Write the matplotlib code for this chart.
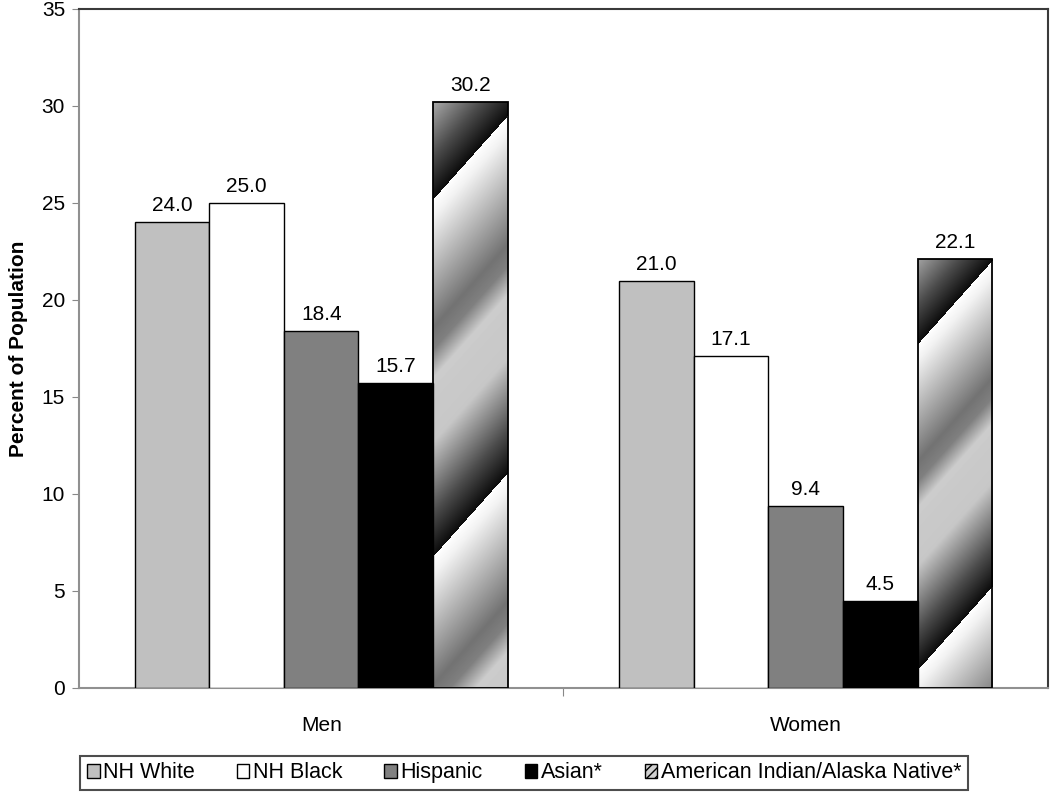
import numpy as np
import matplotlib.pyplot as plt
from matplotlib.patches import Patch

plt.rcParams['font.family'] = ['Liberation Sans', 'DejaVu Sans']

groups = ['Men', 'Women']
series = ['NH White', 'NH Black', 'Hispanic', 'Asian*', 'American Indian/Alaska Native*']
nh_white = [24.0, 21.0]
nh_black = [25.0, 17.1]
hispanic = [18.4, 9.4]
asian = [15.7, 4.5]
ai_an = [30.2, 22.1]

values = [nh_white, nh_black, hispanic, asian, ai_an]
colors = ['#c0c0c0', '#ffffff', '#808080', '#000000', None]

fig = plt.figure(figsize=(10.5, 7.95), dpi=100)
ax = fig.add_axes([0.0752, 0.1346, 0.9228, 0.8541])

index = np.arange(len(groups))
bar_width = 0.154
ax.set_xlim(-0.5, 1.5)
ax.set_ylim(0, 35)

# diagonal banded grey fill, profile along one period (0 = just past the sharp edge)
prof_t = [0.0, 0.05, 0.36, 0.42, 0.5, 0.68, 0.88, 1.0]
prof_v = [1.0, 0.95, 0.45, 0.5, 0.8, 0.78, 0.3, 0.05]


def gradient_bar(x0, h):
    (px0, py0), (px1, py1) = ax.transData.transform([(x0, 0), (x0 + bar_width, h)])
    nx, ny = int(round(px1 - px0)), int(round(py1 - py0))
    u = np.arange(nx)[None, :]
    v = np.arange(ny)[:, None]
    # the fill stretches a little with the bar's height
    period = 240 + 0.2 * ny
    offset = 50 + 0.08 * ny
    slope = 1.12
    phase = ((v + slope * u - offset) / period) % 1.0
    img = np.interp(phase, prof_t, prof_v)
    ax.imshow(img, cmap='gray', vmin=0, vmax=1, aspect='auto', origin='upper',
              extent=(x0, x0 + bar_width, 0, h), interpolation='bilinear', zorder=2)


for i, (vals, c) in enumerate(zip(values, colors)):
    pos = index - 2 * bar_width + i * bar_width
    if c is None:
        bars = ax.bar(pos, vals, bar_width, facecolor='none', edgecolor='black',
                      linewidth=1.3, zorder=3)
        for b in bars:
            gradient_bar(b.get_x(), b.get_height())
    else:
        bars = ax.bar(pos, vals, bar_width, color=c, edgecolor='black',
                      linewidth=1.0, zorder=3)
    for b, val in zip(bars, vals):
        ax.annotate('%.1f' % val, (b.get_x() + bar_width / 2, val),
                    xytext=(0, 5), textcoords='offset points',
                    ha='center', va='bottom', fontsize=15)

ax.set_xlim(-0.5, 1.5)
ax.set_ylim(0, 35)
ax.set_yticks(np.arange(0, 36, 5))
ax.tick_params(axis='y', labelsize=15, direction='out', length=5, color='#888888', pad=5)
ax.set_xticks([0.5])
ax.set_xticklabels([''])
ax.set_xticks(index, minor=True)
ax.set_xticklabels(groups, minor=True)
ax.tick_params(axis='x', which='major', direction='out', length=6, color='#888888')
ax.tick_params(axis='x', which='minor', length=0, labelsize=15, pad=20)

ax.spines['left'].set_color('#909090')
ax.spines['bottom'].set_color('#909090')
ax.spines['left'].set_linewidth(1.5)
ax.spines['bottom'].set_linewidth(1.5)
ax.spines['top'].set_color('#3a3a3a')
ax.spines['right'].set_color('#3a3a3a')
ax.spines['top'].set_linewidth(1.5)
ax.spines['right'].set_linewidth(1.5)

ax.set_ylabel('Percent of Population', fontsize=15, fontweight='bold', labelpad=10)

handles = [Patch(facecolor='#c0c0c0', edgecolor='black'),
           Patch(facecolor='#ffffff', edgecolor='black'),
           Patch(facecolor='#808080', edgecolor='black'),
           Patch(facecolor='#000000', edgecolor='black'),
           Patch(facecolor='#d0d0d0', edgecolor='black', hatch='////')]
leg = fig.legend(handles, series, loc='center', bbox_to_anchor=(0.499, 0.0277), ncol=5,
                 fontsize=15.5, frameon=True, fancybox=False, edgecolor='#202020',
                 handlelength=0.6, handleheight=0.6, handletextpad=0.15,
                 columnspacing=1.95, borderpad=0.3, borderaxespad=0)
leg.get_frame().set_linewidth(1.5)

fig.savefig('out.png', dpi=100)
